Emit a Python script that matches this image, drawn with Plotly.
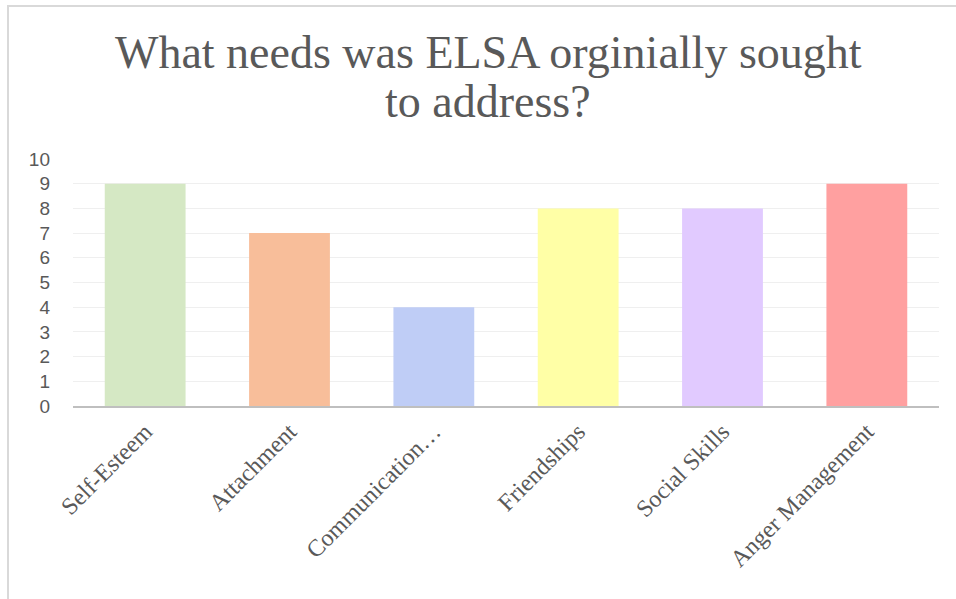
import plotly.graph_objects as go

categories = ["Self-Esteem", "Attachment", "Communication…", "Friendships", "Social Skills", "Anger Management"]
values = [9, 7, 4, 8, 8, 9]
colors = ["#d5e8c4", "#f8be9a", "#bfcdf6", "#ffffa6", "#e1caff", "#ffa0a0"]
y_ticks = list(range(0, 11))
title_lines = ["What needs was ELSA orginially sought", "to address?"]

fig = go.Figure(go.Bar(x=categories, y=values, marker=dict(color=colors, line=dict(width=0)), width=0.56))

H = 247.0
def py(px):
    return (406 - px) / H

fig.update_layout(
    width=956, height=599,
    margin=dict(l=73, r=17, t=159, b=193),
    paper_bgcolor="white", plot_bgcolor="white",
    showlegend=False,
    xaxis=dict(tickangle=-45, tickfont=dict(family="Liberation Serif", size=24, color="#595959"),
               showline=True, linecolor="#bfbfbf", linewidth=2, ticks="", showgrid=False),
    yaxis=dict(range=[0, 10], tickvals=y_ticks, showgrid=True, gridcolor="#efefef", gridwidth=1,
               zeroline=False, showline=False, ticks="", ticklabelstandoff=22,
               tickfont=dict(family="Liberation Sans", size=19, color="#595959")),
    shapes=[dict(type="rect", xref="paper", yref="paper", x0=(8-73)/866, x1=(962-73)/866,
                 y0=(406-605)/H, y1=(406-6)/H, line=dict(color="#d9d9d9", width=2), layer="below")],
    annotations=[
        dict(text=title_lines[0], xref="paper", yref="paper", x=(488-73)/866, y=py(53),
             xanchor="center", yanchor="middle", showarrow=False,
             font=dict(family="Liberation Serif", size=46, color="#595959")),
        dict(text=title_lines[1], xref="paper", yref="paper", x=(488-73)/866, y=py(101),
             xanchor="center", yanchor="middle", showarrow=False,
             font=dict(family="Liberation Serif", size=46, color="#595959")),
    ],
)

fig.write_html("out.html")
